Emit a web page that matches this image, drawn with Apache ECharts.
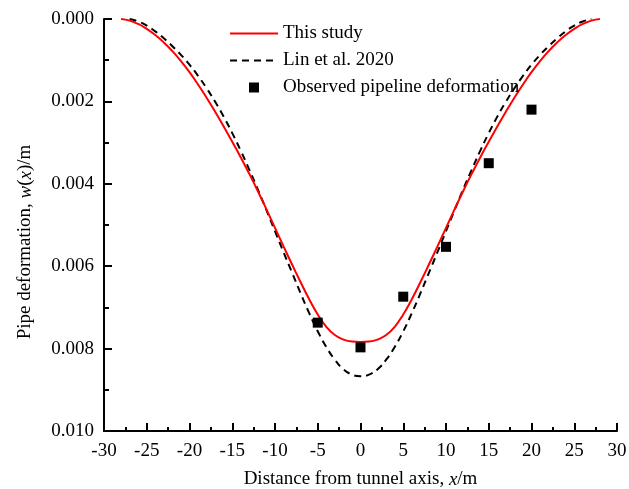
<!DOCTYPE html>
<html>
<head>
<meta charset="utf-8">
<script src="https://cdn.jsdelivr.net/npm/echarts@6/dist/echarts.min.js"></script>
<style>
  html, body { margin: 0; padding: 0; background: #fff; }
  #chart { width: 629px; height: 489px; }
</style>
</head>
<body>
<div id="chart"></div>
<script>
// Distance from tunnel axis (m) for the present solution
const xStudy = [-28,-27,-26,-25,-24,-23,-22,-21,-20,-19,-18,-17,-16,-15,-14,-13,-12,-11,-10,-9,-8,-7,-6,-5,-4,-3,-2,-1,0,
                1,2,3,4,5,6,7,8,9,10,11,12,13,14,15,16,17,18,19,20,21,22,23,24,25,26,27,28];
// Pipe deformation from the present solution (m)
const wStudy = [0,0.00004,0.00012,0.00024,0.00039,0.00057,0.00078,0.00102,0.00129,0.00159,0.00191,0.00225,0.00261,0.00298,0.00336,0.00376,0.00418,0.00462,0.00507,0.00552,0.00596,0.00639,0.00680,0.00717,0.00747,0.00767,0.00778,0.00783,0.00784,
                0.00783,0.00778,0.00767,0.00747,0.00717,0.00680,0.00639,0.00596,0.00552,0.00507,0.00462,0.00418,0.00376,0.00336,0.00298,0.00261,0.00225,0.00191,0.00159,0.00129,0.00102,0.00078,0.00057,0.00039,0.00024,0.00012,0.00004,0];

// Distance from tunnel axis (m) for Lin et al. (2020)
const xLin = [-27,-26,-25,-24,-23,-22,-21,-20,-19,-18,-17,-16,-15,-14,-13,-12,-11,-10,-9,-8,-7,-6,-5,-4,-3,-2,-1,0,
              1,2,3,4,5,6,7,8,9,10,11,12,13,14,15,16,17,18,19,20,21,22,23,24,25,26,27];
// Pipe deformation from Lin et al. (2020) (m)
const wLin = [0,0.00006,0.00016,0.00030,0.00047,0.00066,0.00087,0.00111,0.00138,0.00168,0.00201,0.00237,0.00277,0.00320,0.00366,0.00414,0.00464,0.00515,0.00566,0.00616,0.00666,0.00714,0.00758,0.00796,0.00827,0.00850,0.00863,0.00867,
              0.00863,0.00850,0.00827,0.00796,0.00758,0.00714,0.00666,0.00616,0.00566,0.00515,0.00464,0.00414,0.00366,0.00320,0.00277,0.00237,0.00201,0.00168,0.00138,0.00111,0.00087,0.00066,0.00047,0.00030,0.00016,0.00006,0];

// Field measurements
const xObs = [-5, 0, 5, 10, 15, 20];
const wObs = [0.00737, 0.00797, 0.00674, 0.00553, 0.00350, 0.00220];

const seriesNames = ['This study', 'Lin et al. 2020', 'Observed pipeline deformation'];

const pairs = (xs, ys) => xs.map((x, i) => [x, ys[i]]);

const FONT = '"Liberation Serif", "Times New Roman", serif';
const SQUARE = 'path://M0,0L10,0L10,10L0,10Z';

const chart = echarts.init(document.getElementById('chart'), null, { renderer: 'canvas' });

chart.setOption({
  animation: false,
  backgroundColor: '#ffffff',
  textStyle: { fontFamily: FONT, color: '#000' },
  grid: { left: 104, right: 12, top: 19, bottom: 58, containLabel: false, outerBoundsMode: 'none' },
  legend: {
    orient: 'vertical',
    left: 229,
    top: 24,
    padding: 0,
    itemWidth: 48,
    itemHeight: 10,
    itemGap: 8,
    symbolKeepAspect: true,
    textStyle: { fontFamily: FONT, fontSize: 19, color: '#000', lineHeight: 19 },
    data: [
      { name: seriesNames[0], itemStyle: { opacity: 0 } },
      { name: seriesNames[1], itemStyle: { opacity: 0 } },
      { name: seriesNames[2], icon: SQUARE }
    ]
  },
  xAxis: {
    type: 'value',
    min: -30, max: 30, interval: 5,
    name: '{n|Distance from tunnel axis, }{i|x}{n|/m}',
    nameLocation: 'middle',
    nameGap: 39,
    nameTextStyle: {
      rich: {
        n: { fontFamily: FONT, fontSize: 19, color: '#000' },
        i: { fontFamily: FONT, fontSize: 19, color: '#000', fontStyle: 'italic' }
      }
    },
    axisLine: { onZero: false, lineStyle: { color: '#000', width: 2 } },
    axisTick: { inside: true, length: 8, lineStyle: { color: '#000', width: 2 } },
    minorTick: { show: true, splitNumber: 2, length: 4, lineStyle: { color: '#000', width: 2 } },
    axisLabel: { fontFamily: FONT, fontSize: 19, color: '#000', margin: 11 },
    splitLine: { show: false }
  },
  yAxis: {
    type: 'value',
    inverse: true,
    min: 0, max: 0.01, interval: 0.002,
    name: '{n|Pipe deformation, }{i|w}{n|(}{i|x}{n|)/m}',
    nameLocation: 'middle',
    nameGap: 69,
    nameRotate: 90,
    nameTextStyle: {
      padding: [0, 34, 0, 0],
      rich: {
        n: { fontFamily: FONT, fontSize: 19, color: '#000' },
        i: { fontFamily: FONT, fontSize: 19, color: '#000', fontStyle: 'italic' }
      }
    },
    axisLine: { show: true, onZero: false, lineStyle: { color: '#000', width: 2 } },
    axisTick: { show: true, inside: true, length: 8, lineStyle: { color: '#000', width: 2 } },
    minorTick: { show: true, splitNumber: 2, length: 5, lineStyle: { color: '#000', width: 2 } },
    axisLabel: {
      fontFamily: FONT, fontSize: 19, color: '#000', margin: 10,
      formatter: v => v.toFixed(3)
    },
    splitLine: { show: false }
  },
  series: [
    {
      name: seriesNames[0],
      type: 'line',
      data: pairs(xStudy, wStudy),
      smooth: true,
      symbol: 'none',
      lineStyle: { color: '#ff0000', width: 2 },
      itemStyle: { color: '#ff0000' },
      z: 3
    },
    {
      name: seriesNames[1],
      type: 'line',
      data: pairs(xLin, wLin),
      smooth: true,
      symbol: 'none',
      lineStyle: { color: '#000', width: 2, type: [7, 5] },
      itemStyle: { color: '#000' },
      z: 2
    },
    {
      name: seriesNames[2],
      type: 'scatter',
      data: pairs(xObs, wObs),
      symbol: 'rect',
      symbolSize: 10,
      itemStyle: { color: '#000', opacity: 1 },
      z: 4
    }
  ]
});
</script>
</body>
</html>
